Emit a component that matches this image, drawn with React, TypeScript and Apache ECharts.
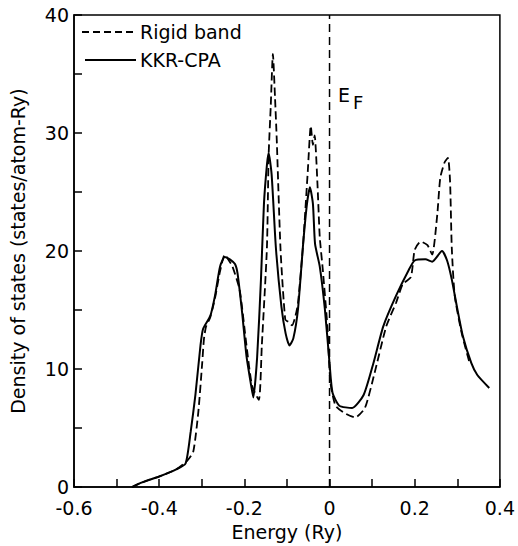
import React, { useEffect, useRef } from "react";
import * as echarts from "echarts";

const xTickLabels = ["-0.6", "-0.4", "-0.2", "0", "0.2", "0.4"];
const yTickLabels = ["0", "10", "20", "30", "40"];

const seriesNames = ["Rigid band", "KKR-CPA"];

const cpaEnergy = [
  -0.464, -0.44, -0.4, -0.36, -0.338, -0.326, -0.315, -0.303, -0.297, -0.28, -0.269, -0.257, -0.246,
  -0.234, -0.222, -0.216, -0.205, -0.195, -0.184, -0.179, -0.17, -0.161, -0.154, -0.147, -0.143,
  -0.136, -0.126, -0.113, -0.103, -0.094, -0.085, -0.074, -0.062, -0.053, -0.046, -0.039, -0.034,
  -0.023, -0.011, 0, 0.007, 0.023, 0.053, 0.08, 0.103, 0.126, 0.156, 0.186, 0.2, 0.225, 0.241,
  0.264, 0.276, 0.287, 0.299, 0.313, 0.333, 0.347, 0.375,
];
const cpaDos = [
  0, 0.4, 0.9, 1.5, 2.0, 4.7, 7.8, 12.0, 13.4, 14.5, 16.2, 18.7, 19.5,
  19.3, 18.9, 18.1, 14.7, 11.1, 8.6, 7.6, 11.0, 17.6, 24.0, 27.3, 28.3,
  26.5, 20.3, 15.3, 13.0, 12.0, 12.6, 15.1, 20.6, 24.0, 25.4, 24.0, 20.6,
  18.7, 15.1, 10.5, 8.0, 6.9, 6.7, 7.8, 10.5, 13.6, 16.2, 18.4, 19.2, 19.3, 19.1,
  20.0, 19.2, 17.6, 15.3, 12.8, 10.5, 9.5, 8.4,
];

const rigidEnergy = [
  -0.464, -0.44, -0.4, -0.36, -0.335, -0.32, -0.308, -0.299, -0.295, -0.29, -0.28, -0.269, -0.257,
  -0.246, -0.238, -0.228, -0.211, -0.195, -0.182, -0.166, -0.159, -0.147, -0.143, -0.138, -0.133,
  -0.128, -0.124, -0.115, -0.104, -0.097, -0.088, -0.08, -0.074, -0.062, -0.051, -0.044, -0.039,
  -0.035, -0.028, -0.023, -0.016, -0.005, 0.002, 0.014, 0.034, 0.06, 0.083, 0.106, 0.133, 0.156,
  0.172, 0.191, 0.2, 0.214, 0.23, 0.241, 0.253, 0.26, 0.27, 0.278, 0.283, 0.287, 0.294, 0.31, 0.329,
];
const rigidDos = [
  0, 0.4, 0.9, 1.5, 2.2, 3.0, 6.4, 10.5, 12.5, 13.6, 14.4, 16.0, 18.3,
  19.7, 19.3, 18.7, 16.7, 12.0, 8.6, 7.4, 12.0, 20.3, 28.1, 32.3, 36.7,
  33.0, 29.5, 20.1, 14.2, 14.0, 13.7, 14.5, 15.6, 20.6, 26.8, 30.6, 29.0,
  29.8, 25.4, 21.2, 18.5, 13.6, 8.9, 6.9, 6.3, 5.9, 6.7, 9.7, 13.6, 15.6,
  17.2, 17.8, 20.1, 20.8, 20.5, 19.7, 23.1, 26.2, 27.5, 27.9, 25.9, 20.3, 16.2, 13.1, 10.5,
];

const fermiEnergy = [0, 0];
const fermiDos = [0, 40];

const FONT = "DejaVu Sans";

export default function App() {
  const ref = useRef<HTMLDivElement>(null);
  useEffect(() => {
    if (!ref.current) return;
    const chart = echarts.init(ref.current, undefined, { renderer: "svg" });
    const zip = (xs: number[], ys: number[]) => xs.map((x, i) => [x, ys[i]]);
    chart.setOption({
      animation: false,
      backgroundColor: "#fff",
      grid: { left: 71, right: 12, top: 15, bottom: 53, show: true, borderColor: "#000", borderWidth: 1.5, backgroundColor: "transparent" },
      xAxis: {
        type: "value",
        min: -0.6,
        max: 0.4,
        interval: 0.2,
        name: "Energy (Ry)",
        nameLocation: "middle",
        nameGap: 32,
        nameTextStyle: { fontFamily: FONT, fontSize: 19, color: "#000" },
        axisLine: { show: true, onZero: false, lineStyle: { color: "#000", width: 1.5 } },
        axisTick: { show: true, inside: true, length: 8, lineStyle: { color: "#000", width: 1.5 } },
        minorTick: { show: true, splitNumber: 2, length: 8, lineStyle: { color: "#000", width: 1.5 } },
        splitLine: { show: false },
        axisLabel: {
          fontFamily: FONT,
          fontSize: 19,
          lineHeight: 19,
          color: "#000",
          margin: 11,
          formatter: (v: number) => {
            const idx = Math.round((v + 0.6) / 0.2);
            return xTickLabels[idx] ?? "";
          },
        },
      },
      yAxis: {
        type: "value",
        min: 0,
        max: 40,
        interval: 10,
        name: "Density of states (states/atom-Ry)",
        nameLocation: "middle",
        nameGap: 47,
        nameTextStyle: { fontFamily: FONT, fontSize: 19, color: "#000" },
        axisLine: { show: true, onZero: false, lineStyle: { color: "#000", width: 1.5 } },
        axisTick: { show: true, inside: true, length: 8, lineStyle: { color: "#000", width: 1.5 } },
        minorTick: { show: true, splitNumber: 2, length: 8, lineStyle: { color: "#000", width: 1.5 } },
        splitLine: { show: false },
        axisLabel: {
          fontFamily: FONT,
          fontSize: 19,
          lineHeight: 17,
          color: "#000",
          margin: 5,
          formatter: (v: number) => yTickLabels[Math.round(v / 10)] ?? "",
        },
      },
      series: [
        {
          name: "EF",
          type: "line",
          data: zip(fermiEnergy, fermiDos),
          showSymbol: false,
          symbol: "none",
          lineStyle: { color: "#000", width: 1.5, type: [8, 5] },
          z: 1,
        },
        {
          name: seriesNames[0],
          type: "line",
          data: zip(rigidEnergy, rigidDos),
          showSymbol: false,
          symbol: "none",
          smooth: 0.2,
          lineStyle: { color: "#000", width: 1.8, type: [8, 4] },
          z: 3,
        },
        {
          name: seriesNames[1],
          type: "line",
          data: zip(cpaEnergy, cpaDos),
          showSymbol: false,
          symbol: "none",
          smooth: 0.2,
          lineStyle: { color: "#000", width: 2 },
          z: 2,
        },
      ],
      graphic: [
        { type: "line", shape: { x1: 82, y1: 32, x2: 136, y2: 32 }, style: { stroke: "#000", lineWidth: 1.8, lineDash: [7, 4] } },
        { type: "text", x: 140, y: 32, style: { text: seriesNames[0], fontFamily: FONT, fontSize: 19, fill: "#000", verticalAlign: "middle" } },
        { type: "line", shape: { x1: 85, y1: 60, x2: 136, y2: 60 }, style: { stroke: "#000", lineWidth: 1.8 } },
        { type: "text", x: 140, y: 60, style: { text: seriesNames[1], fontFamily: FONT, fontSize: 19, fill: "#000", verticalAlign: "middle" } },
        { type: "text", x: 338, y: 95, style: { text: "E", fontFamily: FONT, fontSize: 19, fill: "#000", verticalAlign: "middle" } },
        { type: "text", x: 353, y: 102, style: { text: "F", fontFamily: FONT, fontSize: 18, fill: "#000", verticalAlign: "middle" } },
      ],
    });
    return () => chart.dispose();
  }, []);
  return <div ref={ref} style={{ width: 518, height: 546, position: "fixed", left: 0, top: 0 }} />;
}
